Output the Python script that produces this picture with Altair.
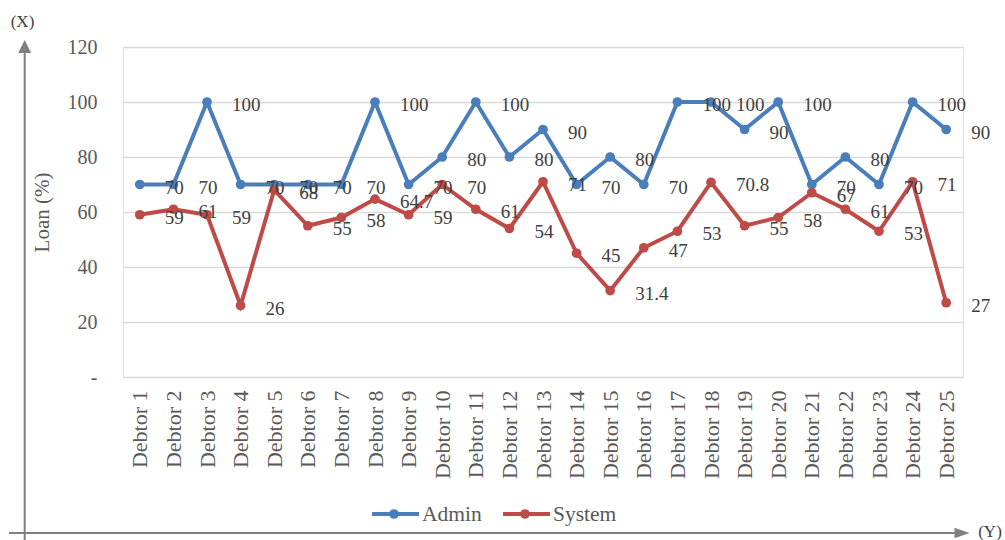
import altair as alt
import pandas as pd

# Loan share (%) per debtor, as assessed by the admin and by the system
debtors = [f"Debtor {i}" for i in range(1, 26)]
admin = [70, 70, 100, 70, 70, 70, 70, 100, 70, 80, 100, 80, 90,
         70, 80, 70, 100, 100, 90, 100, 70, 80, 70, 100, 90]
system = [59, 61, 59, 26, 68, 55, 58, 64.7, 59, 70, 61, 54, 71,
          45, 31.4, 47, 53, 70.8, 55, 58, 67, 61, 53, 71, 27]
series_names = ["Admin", "System"]
series_colors = ["#4A7EBB", "#BE4B48"]
y_ticks = [0, 20, 40, 60, 80, 100, 120]

FONT = "Liberation Serif"
GREY = "#595959"

rows = []
for name, vals in zip(series_names, [admin, system]):
    for d, v in zip(debtors, vals):
        rows.append({"debtor": d, "series": name, "value": v})
df = pd.DataFrame(rows)

W, H = 840, 330

x_enc = alt.X(
    "debtor:N", sort=debtors, title=None,
    scale=alt.Scale(type="point", padding=0.5),
    axis=alt.Axis(labelAngle=-90, labelAlign="right", labelBaseline="middle",
                  labelFontSize=22, labelFont=FONT, labelColor=GREY,
                  labelPadding=13, ticks=False, domain=False, grid=False),
)
y_enc = alt.Y(
    "value:Q", title="Loan (%)",
    scale=alt.Scale(domain=[0, 120], nice=False),
    axis=alt.Axis(values=y_ticks, labelExpr="datum.value == 0 ? '-' : datum.label",
                  labelFontSize=20, labelFont=FONT, labelColor=GREY,
                  labelPadding=26, ticks=False, domain=False,
                  grid=True, gridColor="#D9D9D9", gridWidth=1.5,
                  titleFont=FONT, titleFontSize=21, titleFontWeight="normal",
                  titleColor=GREY, titleAngle=-90, titleX=-81, titleY=H / 2,
                  titleAlign="center", titleBaseline="middle"),
)
color_enc = alt.Color("series:N", scale=alt.Scale(domain=series_names, range=series_colors),
                      legend=None)

base = alt.Chart(df).encode(x=x_enc, y=y_enc, color=color_enc,
                            detail="series:N")

lines = base.mark_line(strokeWidth=4)
dots = base.mark_circle(size=95, opacity=1)
labels = base.mark_text(align="left", baseline="middle", dx=25, dy=3,
                        font=FONT, fontSize=19, color="#404040").encode(
    text=alt.Text("value:Q"), color=alt.value("#404040"))

# Legend: line segment with a dot, followed by the series name
legend_layers = []
legend_x = [249, 380]
for name, col, lx in zip(series_names, series_colors, legend_x):
    src = alt.Chart(pd.DataFrame({"series": [name]}))
    legend_layers.append(src.mark_rule(strokeWidth=4, color=col).encode(
        x=alt.value(lx), x2=alt.value(lx + 47), y=alt.value(467)))
    legend_layers.append(src.mark_circle(size=95, opacity=1, color=col).encode(
        x=alt.value(lx + 22), y=alt.value(467)))
    legend_layers.append(src.mark_text(align="left", baseline="middle", font=FONT,
                                       fontSize=21.5, color=GREY).encode(
        x=alt.value(lx + 50), y=alt.value(468), text="series:N"))

# Axis arrows with (X) and (Y) markers
ARROW = "#808080"
deco = alt.Chart(pd.DataFrame({"k": [0]}))
arrows = [
    deco.mark_rule(strokeWidth=2, color=ARROW).encode(
        x=alt.value(-98.3), y=alt.value(0), y2=alt.value(495)),
    deco.mark_rule(strokeWidth=2, color=ARROW).encode(
        x=alt.value(-114), x2=alt.value(834), y=alt.value(486)),
    deco.mark_point(shape="M0,-1 L1,1 L-1,1 Z", size=169, filled=True,
                    opacity=1, color=ARROW).encode(
        x=alt.value(-98.3), y=alt.value(-0.5)),
    deco.mark_point(shape="M1,0 L-1,-0.7 L-1,0.7 Z", size=225, filled=True,
                    opacity=1, color=ARROW).encode(
        x=alt.value(839), y=alt.value(486)),
    deco.mark_text(font=FONT, fontSize=17, color="#404040").encode(
        x=alt.value(-100.5), y=alt.value(-25), text=alt.value("(X)")),
    deco.mark_text(font=FONT, fontSize=17, color="#404040").encode(
        x=alt.value(867), y=alt.value(485), text=alt.value("(Y)")),
]

chart = alt.layer(lines, dots, labels, *legend_layers, *arrows).properties(
    width=W, height=H,
    autosize=alt.AutoSizeParams(type="none"),
    padding={"left": 123, "top": 47, "right": 42, "bottom": 163},
).configure_view(stroke=None).configure(background="white")

chart.save("out.html", embed_options={"renderer": "svg", "actions": False})
